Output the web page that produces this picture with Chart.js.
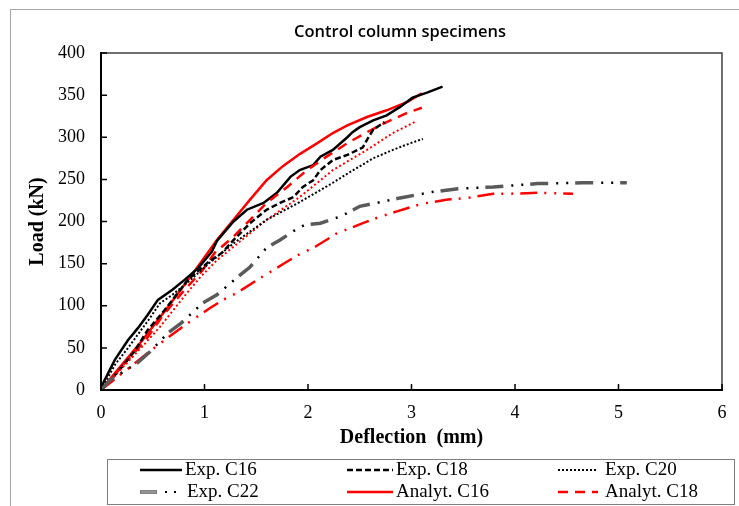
<!DOCTYPE html>
<html><head><meta charset="utf-8">
<script src="https://cdn.jsdelivr.net/npm/chart.js@4.4.0/dist/chart.umd.min.js"></script>
<style>
html,body{margin:0;padding:0;background:#fff;}
#wrap{position:relative;width:739px;height:506px;overflow:hidden;background:#fff;}
#frame{position:absolute;left:10px;top:9px;width:800px;height:600px;border-left:1px solid #a6a6a6;border-top:1px solid #a6a6a6;}
canvas{position:absolute;left:0;top:0;}
</style></head>
<body><div id="wrap"><div id="frame"></div><canvas id="c" width="739" height="506"></canvas></div>
<script>
// ---- data (deflection in mm, load in kN) ----
const xTicks = [0,1,2,3,4,5,6];
const yTicks = [0,50,100,150,200,250,300,350,400];

const expC16Defl = [0,0.02,0.135,0.26,0.36,0.45,0.55,0.69,0.81,0.94,1.07,1.12,1.28,1.41,1.57,1.70,1.83,1.92,2.05,2.12,2.24,2.38,2.43,2.50,2.63,2.76,2.89,3.01,3.15,3.30];
const expC16Load = [0,8,36,59,74,89,107,119,131,145,164,177,200,214,222,234,253,261,267,277,285,300,306,312,320,326,336,347,353,360];

const expC18Defl = [0,0.07,0.20,0.33,0.45,0.59,0.71,0.84,1.03,1.17,1.28,1.44,1.60,1.73,1.86,1.95,2.05,2.12,2.24,2.38,2.53,2.57,2.63,2.74];
const expC18Load = [0,8,27,47,71,91,110,131,151,163,178,198,214,222,229,241,249,261,273,279,288,297,309,318];

const expC20Defl = [0,0.135,0.28,0.47,0.57,0.69,0.83,1.05,1.28,1.60,1.92,2.24,2.41,2.63,2.82,2.99,3.11];
const expC20Load = [0,30,53,85,103,113,127,151,174,202,223,246,259,275,285,293,298];

const expC22Defl = [0,0.09,0.35,0.47,0.65,0.78,0.98,1.12,1.31,1.44,1.60,1.73,1.89,1.97,2.12,2.29,2.38,2.50,2.70,2.89,3.20,3.45,3.79,4.22,4.65,5.08];
const expC22Load = [0,12,32,45,68,80,103,113,133,146,169,178,191,196,198,205,210,218,223,228,235,239,241,245,246,246];

const anaC16Defl = [0,0.135,0.40,0.65,0.91,1.12,1.28,1.44,1.60,1.76,1.92,2.09,2.24,2.38,2.57,2.76,2.96,3.10];
const anaC16Load = [0,20,59,99,142,178,202,226,249,266,280,293,305,314,324,332,342,352];

const anaC18Defl = [0,0.26,0.43,0.59,0.78,0.98,1.10,1.28,1.44,1.60,1.80,1.99,2.18,2.38,2.57,2.76,2.96,3.10];
const anaC18Load = [0,36,59,87,115,142,163,182,202,222,241,261,277,293,306,318,329,335];

const anaC20Defl = [0,0.28,0.41,0.57,0.70,0.83,0.96,1.12,1.28,1.44,1.60,1.92,2.24,2.57,2.82,3.03];
const anaC20Load = [0,36,53,75,95,115,134,154,170,186,202,229,261,285,305,318];

const anaC22Defl = [0,0.33,0.45,0.59,0.81,1.05,1.18,1.31,1.54,1.78,1.90,2.07,2.28,2.53,2.68,2.86,3.10,3.35,3.54,3.79,3.95,4.22,4.56];
const anaC22Load = [0,32,44,57,77,97,107,115,133,151,160,170,186,198,205,212,221,226,228,233,233,234,233];

const pts = (xs, ys) => xs.map((x, i) => ({x: x, y: ys[i]}));

const SERIF = "'Liberation Serif','Times New Roman',serif";
const RED = '#ff0000';

function ds(label, xs, ys, color, width, dash, offset) {
  return {label: label, data: pts(xs, ys), borderColor: color, backgroundColor: color,
    borderWidth: width, borderDash: dash || [], borderDashOffset: offset || 0,
    borderCapStyle: 'butt', pointRadius: 0, pointHoverRadius: 0, fill: false, tension: 0};
}

const datasets = [
  ds('Exp. C22 outline', expC22Defl, expC22Load, '#5a5a5a', 3.5, [18, 27]),
  ds('Exp. C22', expC22Defl, expC22Load, '#a8a8a8', 1.5, [17, 28], -0.5),
  ds('Exp. C22 dots', expC22Defl, expC22Load, '#000000', 2.5, [2, 8, 2, 33], 19),
  ds('Analyt. C22', anaC22Defl, anaC22Load, RED, 2.5, [17, 7, 2, 8, 2, 7]),
  ds('Exp. C20', expC20Defl, expC20Load, '#000000', 2, [2, 2]),
  ds('Analyt. C20', anaC20Defl, anaC20Load, RED, 2, [2, 2.5]),
  ds('Exp. C18', expC18Defl, expC18Load, '#000000', 2.5, [6, 3]),
  ds('Analyt. C18', anaC18Defl, anaC18Load, RED, 2.5, [10, 7]),
  ds('Exp. C16', expC16Defl, expC16Load, '#000000', 2.5, []),
  ds('Analyt. C16', anaC16Defl, anaC16Load, RED, 2.5, [])
];

// legend entries (label -> dataset label)
const legendLabels = [['Exp. C16','Exp. C18','Exp. C20'],['Exp. C22','Analyt. C16','Analyt. C18']];

const framePlugin = {
  id: 'framePlugin',
  afterDraw(chart) {
    const {ctx, chartArea: a, scales} = chart;
    ctx.save();
    // title
    ctx.fillStyle = '#000';
    ctx.font = "600 16.5px 'Open Sans'";
    ctx.textAlign = 'center';
    ctx.textBaseline = 'middle';
    ctx.fillText('Control column specimens', 400, 32);
    // plot border
    ctx.strokeStyle = '#404040';
    ctx.lineWidth = 1.5;
    ctx.beginPath();
    ctx.moveTo(a.left, a.top); ctx.lineTo(a.right, a.top); ctx.lineTo(a.right, a.bottom);
    ctx.stroke();
    ctx.strokeStyle = '#000';
    ctx.lineWidth = 2;
    ctx.beginPath();
    ctx.moveTo(a.left, a.top - 1); ctx.lineTo(a.left, a.bottom); ctx.lineTo(a.right + 1, a.bottom);
    ctx.stroke();
    ctx.lineWidth = 1.5;
    ctx.beginPath();
    yTicks.forEach(v => { const y = scales.y.getPixelForValue(v); ctx.moveTo(a.left, y); ctx.lineTo(a.left + 6, y); });
    xTicks.forEach(v => { const x = scales.x.getPixelForValue(v); ctx.moveTo(x, a.bottom); ctx.lineTo(x, a.bottom - 6); });
    ctx.stroke();

    // legend box
    ctx.strokeStyle = '#7f7f7f';
    ctx.lineWidth = 1;
    ctx.strokeRect(107.5, 459.5, 627, 45);
    const colLine = [[140, 182], [347, 393], [558, 598]];
    const colText = [185, 396, 605];
    const rowY = [470, 492];
    ctx.font = '19px ' + SERIF;
    ctx.textAlign = 'left';
    ctx.textBaseline = 'middle';
    legendLabels.forEach((row, r) => row.forEach((lab, c) => {
      const y = rowY[r];
      if (lab === 'Exp. C22') {
        ctx.setLineDash([]);
        ctx.lineCap = 'butt';
        ctx.strokeStyle = '#5a5a5a'; ctx.lineWidth = 3.5;
        ctx.beginPath(); ctx.moveTo(140, y); ctx.lineTo(157, y); ctx.stroke();
        ctx.strokeStyle = '#a8a8a8'; ctx.lineWidth = 1.5;
        ctx.beginPath(); ctx.moveTo(140.5, y); ctx.lineTo(156.5, y); ctx.stroke();
        ctx.fillStyle = '#000';
        ctx.fillRect(165, y - 1, 2, 2);
        ctx.fillRect(174, y - 1, 2, 2);
        ctx.fillText(lab, 187, y);
        return;
      }
      const d = chart.data.datasets.find(s => s.label === lab);
      ctx.strokeStyle = d.borderColor;
      ctx.lineWidth = d.borderWidth;
      ctx.setLineDash(d.borderDash);
      ctx.lineCap = 'butt';
      ctx.beginPath(); ctx.moveTo(colLine[c][0], y); ctx.lineTo(colLine[c][1], y); ctx.stroke();
      ctx.setLineDash([]);
      ctx.fillStyle = '#000';
      ctx.fillText(lab, colText[c], y);
    }));
    ctx.restore();
  }
};

new Chart(document.getElementById('c'), {
  type: 'line',
  data: {datasets: datasets},
  options: {
    responsive: false,
    animation: false,
    devicePixelRatio: 1,
    layout: {padding: {left: 0, right: 17, top: 53, bottom: 0}},
    plugins: {legend: {display: false}, tooltip: {enabled: false}, title: {display: false}},
    scales: {
      x: {
        type: 'linear', min: 0, max: 6,
        afterFit: s => { s.height = 116; },
        afterBuildTicks: s => { s.ticks = xTicks.map(v => ({value: v})); },
        grid: {display: false, drawTicks: false},
        border: {display: false},
        ticks: {color: '#000', font: {family: SERIF, size: 18}, padding: 12},
        title: {display: true, text: 'Deflection  (mm)', color: '#000',
          font: {family: SERIF, size: 20, weight: 'bold'}, padding: {top: 0, bottom: 56}}
      },
      y: {
        type: 'linear', min: 0, max: 400,
        afterFit: s => { s.width = 101; },
        afterBuildTicks: s => { s.ticks = yTicks.map(v => ({value: v})); },
        grid: {display: false, drawTicks: false},
        border: {display: false},
        ticks: {color: '#000', font: {family: SERIF, size: 18}, padding: 16},
        title: {display: true, text: 'Load (kN)', color: '#000',
          font: {family: SERIF, size: 20, weight: 'bold'}, padding: {top: 26, bottom: 0}}
      }
    }
  },
  plugins: [framePlugin]
});
</script>
</body></html>
